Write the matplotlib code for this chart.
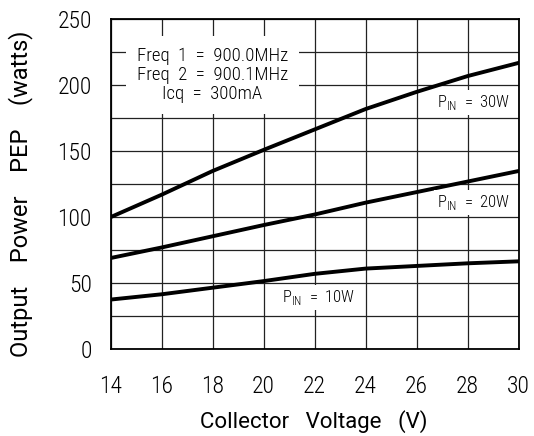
import numpy as np
import matplotlib
matplotlib.use("Agg")
import matplotlib.pyplot as plt

plt.rcParams["font.family"] = ["Roboto Condensed", "DejaVu Sans"]
plt.rcParams["font.weight"] = "light"
plt.rcParams["mathtext.fontset"] = "custom"
plt.rcParams["mathtext.rm"] = "Roboto Condensed:light"

# data
voltage = [14, 16, 18, 20, 22, 24, 26, 28, 30]
pout_30w = [100, 117, 135, 151, 166.5, 182, 195, 207, 217]
pout_20w = [69, 77, 85.5, 94, 102, 111, 119, 127, 135]
pout_10w = [37.5, 41.5, 46.5, 51.5, 57, 61, 63, 65, 66.5]

x_ticks = np.arange(14, 31, 2)
y_ticks = np.arange(0, 251, 50)

fig = plt.figure(figsize=(5.34, 4.36), dpi=100)
ax = fig.add_axes([0.207, 0.1995, 0.764, 0.756])

for series in (pout_30w, pout_20w, pout_10w):
    ax.plot(voltage, series, color="black", lw=2.8, zorder=3)

ax.set_xlim(14, 30)
ax.set_ylim(0, 250)
ax.set_xticks(x_ticks)
ax.set_yticks(y_ticks)
ax.set_yticks(np.arange(25, 250, 50), minor=True)
ax.grid(True, which="both", color="#222222", lw=0.9, zorder=1)
ax.tick_params(which="both", length=0, labelsize=17, colors="black")
ax.tick_params(axis="x", pad=18.5)
ax.tick_params(axis="y", pad=13.5)
for s in ax.spines.values():
    s.set_linewidth(1.3)

lab = dict(family=["Roboto", "DejaVu Sans"], weight="normal", color="black")
ax.set_xlabel("Collector   Voltage   (V)", fontsize=16, **lab)
ax.set_ylabel("Output    Power    PEP    (watts)", fontsize=17, **lab)
ax.xaxis.set_label_coords(0.499, -0.185)
ax.yaxis.set_label_coords(-0.19, 0.47)

box = dict(facecolor="white", edgecolor="none", pad=2)
ax.text(18.0, 207.8, "Freq  1  =  900.0MHz\nFreq  2  =  900.1MHz\nIcq  =  300mA",
        ha="center", va="center", fontsize=13.5, linespacing=1.08,
        bbox=dict(facecolor="white", edgecolor="none", pad=8), zorder=4)
ax.text(28.24, 187, r"P$_{\mathrm{IN}}$  =  30W", ha="center", va="center",
        fontsize=12, bbox=box, zorder=4)
ax.text(28.24, 111, r"P$_{\mathrm{IN}}$  =  20W", ha="center", va="center",
        fontsize=12, bbox=box, zorder=4)
ax.text(22.14, 39, r"P$_{\mathrm{IN}}$  =  10W", ha="center", va="center",
        fontsize=12, bbox=box, zorder=4)

fig.savefig("out.png", dpi=100)
